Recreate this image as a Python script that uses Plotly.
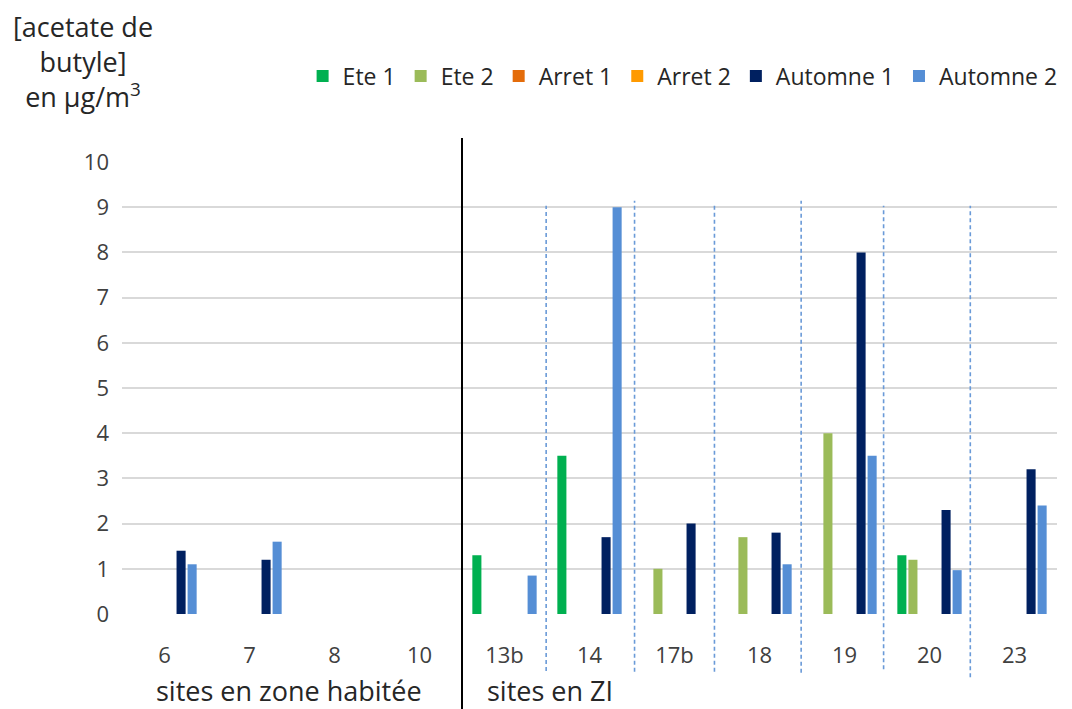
import plotly.graph_objects as go

sites = ["6", "7", "8", "10", "13b", "14", "17b", "18", "19", "20", "23"]

ete_1 = [None, None, None, None, 1.3, 3.5, None, None, None, 1.3, None]
ete_2 = [None, None, None, None, None, None, 1.0, 1.7, 4.0, 1.2, None]
arret_1 = [None] * 11
arret_2 = [None] * 11
automne_1 = [1.4, 1.2, None, None, None, 1.7, 2.0, 1.8, 8.0, 2.3, 3.2]
automne_2 = [1.1, 1.6, None, None, 0.85, 9.0, None, 1.1, 3.5, 0.97, 2.4]

series = [
    ("Ete 1", ete_1, "#00B050"),
    ("Ete 2", ete_2, "#9BBB59"),
    ("Arret 1", arret_1, "#E46C0A"),
    ("Arret 2", arret_2, "#FF9A00"),
    ("Automne 1", automne_1, "#002060"),
    ("Automne 2", automne_2, "#558ED5"),
]

font = "Open Sans"
fig = go.Figure()
for name, vals, color in series:
    fig.add_trace(go.Bar(x=sites, y=vals, name=name, marker=dict(color=color, line=dict(width=0))))

# solid separator between zones, dashed separators inside ZI
fig.add_shape(type="line", xref="x", yref="paper", x0=3.5, x1=3.5, y0=-0.215, y1=1.053,
              line=dict(color="black", width=2))
dash_pos = [(4.49, 0.903, -0.126), (5.53, 0.914, -0.128), (6.47, 0.903, -0.128),
            (7.49, 0.914, -0.13), (8.46, 0.903, -0.122), (9.48, 0.903, -0.14)]
for xp, ytop, ybot in dash_pos:
    fig.add_shape(type="line", xref="x", yref="paper", x0=xp, x1=xp, y0=ybot, y1=ytop,
                  line=dict(color="#6A9AD8", width=1.6, dash="4px,3px"))

fig.add_annotation(text="[acetate de<br>butyle]<br>en µg/m<sup>3</sup>", xref="paper", yref="paper",
                   x=-0.042, y=1.345, xanchor="center", yanchor="top", showarrow=False, align="center",
                   font=dict(family=font, size=27, color="#262626"))
fig.add_annotation(text="sites en zone habitée", xref="x", yref="paper", x=1.46, y=-0.17,
                   xanchor="center", yanchor="middle", showarrow=False,
                   font=dict(family=font, size=27, color="#262626"))
fig.add_annotation(text="sites en ZI", xref="x", yref="paper", x=3.77, y=-0.17,
                   xanchor="left", yanchor="middle", showarrow=False,
                   font=dict(family=font, size=27, color="#262626"))

fig.update_layout(
    width=1072, height=709, template="none",
    paper_bgcolor="white", plot_bgcolor="white",
    margin=dict(l=114, r=23, t=154, b=103),
    barmode="group", bargap=0.22, bargroupgap=0.18,
    font=dict(family=font, size=22, color="#404040"),
    legend=dict(orientation="h", x=1.006, y=1.19, xanchor="right", yanchor="middle",
                font=dict(family=font, size=23, color="#262626"),
                itemwidth=30, tracegroupgap=0, traceorder="normal"),
    showlegend=True,
)
fig.update_yaxes(range=[0, 10], dtick=1, showgrid=True, gridcolor="#D9D9D9", gridwidth=2,
                 zeroline=False, showline=False, ticks="", ticklabelstandoff=12,
                 tickfont=dict(family=font, size=22, color="#404040"))
fig.update_xaxes(type="category", showgrid=False, showline=False, zeroline=False, ticks="",
                 tickfont=dict(family=font, size=22, color="#404040"), ticklabelstandoff=26)

fig.write_html("out.html")
